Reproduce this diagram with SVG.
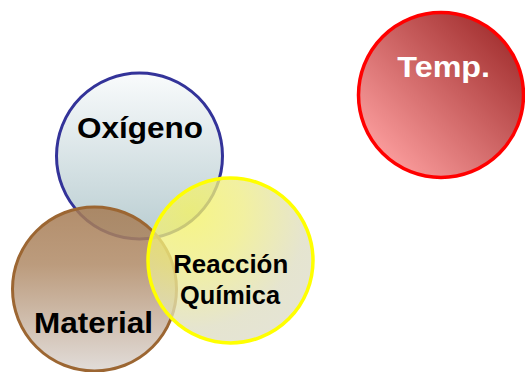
<svg xmlns="http://www.w3.org/2000/svg" width="525" height="372" viewBox="0 0 525 372">
<defs>
<linearGradient id="gOx" x1="0" y1="0" x2="0" y2="1">
<stop offset="0" stop-color="#F9FBFC"/>
<stop offset="1" stop-color="#B9CDD1"/>
</linearGradient>
<linearGradient id="gMat" x1="0" y1="0" x2="0" y2="1">
<stop offset="0" stop-color="#A57A52"/>
<stop offset="0.35" stop-color="#B08A66"/>
<stop offset="1" stop-color="#DCD6D2"/>
</linearGradient>
<radialGradient id="gRe" cx="0.25" cy="0.2" r="0.95" fx="0.25" fy="0.2">
<stop offset="0" stop-color="#F4F264"/>
<stop offset="0.35" stop-color="#EEEC86"/>
<stop offset="0.75" stop-color="#DEDDC2"/>
<stop offset="1" stop-color="#DDDCCB"/>
</radialGradient>
<linearGradient id="gTemp" x1="0.15" y1="0.85" x2="0.85" y2="0.15">
<stop offset="0" stop-color="#F99A9A"/>
<stop offset="1" stop-color="#A73535"/>
</linearGradient>
<style>
.lbl{font-family:"Liberation Sans",Arial,sans-serif;font-weight:bold;text-anchor:middle;fill:#000}
</style>
</defs>
<g id="oxigeno">
<circle cx="139.5" cy="156" r="83" fill="url(#gOx)" stroke="#333399" stroke-width="3"/>
<text class="lbl" x="140" y="138" font-size="29" textLength="126" lengthAdjust="spacingAndGlyphs">Oxígeno</text>
</g>
<g id="material">
<circle cx="94.5" cy="289" r="82" fill="url(#gMat)" fill-opacity="0.85" stroke="#9C6632" stroke-width="3"/>
<text class="lbl" x="93.5" y="333" font-size="30" textLength="119" lengthAdjust="spacingAndGlyphs">Material</text>
</g>
<g id="reaccion">
<circle cx="230.5" cy="260.5" r="82.5" fill="url(#gRe)" fill-opacity="0.78" stroke="#FFFF00" stroke-width="3.5"/>
<text class="lbl" x="230.7" y="273" font-size="25" textLength="115" lengthAdjust="spacingAndGlyphs">Reacción</text>
<text class="lbl" x="230" y="303.5" font-size="25" textLength="100" lengthAdjust="spacingAndGlyphs">Química</text>
</g>
<g id="temp">
<circle cx="441" cy="95" r="82.5" fill="url(#gTemp)" stroke="#FF0000" stroke-width="3.5"/>
<text class="lbl" x="443.7" y="77" font-size="30" fill="#FFFFFF" style="fill:#FFFFFF" textLength="92.7" lengthAdjust="spacingAndGlyphs">Temp.</text>
</g>
<g id="connectors"></g>
</svg>
